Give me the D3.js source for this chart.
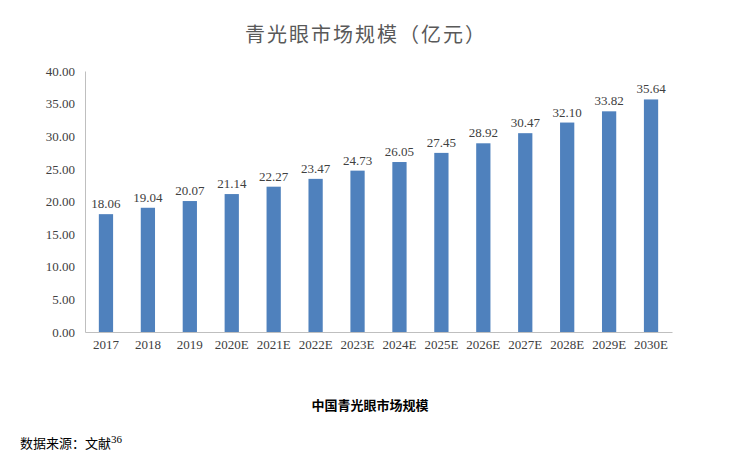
<!DOCTYPE html>
<html><head><meta charset="utf-8">
<script src="https://cdn.jsdelivr.net/npm/d3@7"></script>
<style>body{margin:0;background:#fff}</style>
</head><body>
<svg id="c" width="734" height="462"></svg>
<script>
var years = ["2017","2018","2019","2020E","2021E","2022E","2023E","2024E","2025E","2026E","2027E","2028E","2029E","2030E"];
var values = [18.06,19.04,20.07,21.14,22.27,23.47,24.73,26.05,27.45,28.92,30.47,32.10,33.82,35.64];
var yTicks = [0,5,10,15,20,25,30,35,40];

var svg = d3.select("#c");
var plotLeft = 85, plotRight = 672, plotTop = 71, plotBottom = 332;

var x = d3.scaleBand().domain(years).range([plotLeft, plotRight]).paddingInner(0.66).paddingOuter(0.33);
var y = d3.scaleLinear().domain([0, 40]).range([plotBottom, plotTop]);

svg.append("text").attr("x", 366).attr("y", 42).attr("text-anchor", "middle")
	.attr("font-family", "Noto Sans CJK SC").attr("font-size", 20).attr("fill", "#595959")
	.attr("letter-spacing", 2).text("青光眼市场规模（亿元）");

svg.append("g").attr("transform", "translate(" + plotLeft + ",0)")
	.call(d3.axisLeft(y).tickValues(yTicks).tickSize(0).tickPadding(10).tickFormat(d3.format(".2f")));
svg.append("g").attr("transform", "translate(0," + plotBottom + ")")
	.call(d3.axisBottom(x).tickSize(0).tickPadding(8));
svg.selectAll(".tick text").attr("font-family", "Liberation Serif").attr("font-size", 13).attr("fill", "#404040");
svg.selectAll(".domain").attr("stroke", "#bfbfbf");

svg.selectAll(".bar").data(values).enter().append("rect")
	.attr("x", function(d, i){ return x(years[i]); })
	.attr("y", function(d){ return y(d); })
	.attr("width", x.bandwidth())
	.attr("height", function(d){ return plotBottom - y(d); })
	.attr("fill", "#4f81bd");

svg.selectAll(".lbl").data(values).enter().append("text")
	.attr("x", function(d, i){ return x(years[i]) + x.bandwidth() / 2; })
	.attr("y", function(d){ return y(d) - 6; })
	.attr("text-anchor", "middle").attr("font-family", "Liberation Serif").attr("font-size", 13).attr("fill", "#404040")
	.text(function(d){ return d.toFixed(2); });

svg.append("text").attr("x", 370).attr("y", 410).attr("text-anchor", "middle")
	.attr("font-family", "Noto Sans CJK SC").attr("font-weight", "bold").attr("font-size", 13).attr("fill", "#000")
	.text("中国青光眼市场规模");

var src = svg.append("text").attr("x", 20).attr("y", 448)
	.attr("font-family", "Noto Sans CJK SC").attr("font-size", 13).attr("fill", "#000");
src.append("tspan").text("数据来源：文献");
src.append("tspan").attr("dy", -5).attr("font-family", "Liberation Serif").attr("font-size", 11).text("36");
</script>
</body></html>
